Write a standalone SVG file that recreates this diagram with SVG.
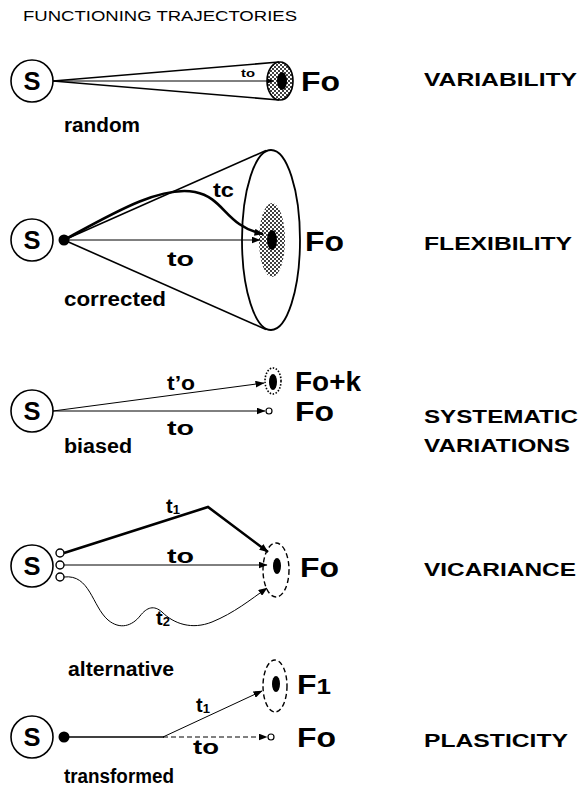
<svg xmlns="http://www.w3.org/2000/svg" width="581" height="786" viewBox="0 0 581 786">
<style>
.t{font-family:"Liberation Sans",Arial,sans-serif;fill:#000}
.b{font-weight:bold}
.node{fill:#fff;stroke:#000;stroke-width:1.6}
.ln{fill:none;stroke:#000;stroke-width:1}
.cone{fill:none;stroke:#000;stroke-width:1.6}
.thick{fill:none;stroke:#000;stroke-width:2.6}
.dash{fill:none;stroke:#000;stroke-width:1.4;stroke-dasharray:5 3}
.blk{fill:#000}
</style>
<defs>
<marker id="ah" markerWidth="9" markerHeight="7" refX="8.5" refY="3.5" orient="auto" markerUnits="userSpaceOnUse">
<path d="M0,0 L9,3.5 L0,7 z" fill="#000"/>
</marker>
<marker id="ahs" markerWidth="7" markerHeight="6" refX="6.5" refY="3" orient="auto" markerUnits="userSpaceOnUse">
<path d="M0,0 L7,3 L0,6 z" fill="#000"/>
</marker>
<pattern id="dots" width="4" height="4" patternUnits="userSpaceOnUse">
<rect width="4" height="4" fill="#fff"/>
<circle cx="1" cy="1" r="1" fill="#000"/>
<circle cx="3" cy="3" r="1" fill="#000"/>
</pattern>
</defs>

<text class="t" x="23" y="21" font-size="14" textLength="274" lengthAdjust="spacingAndGlyphs">FUNCTIONING TRAJECTORIES</text>

<g id="labels-right" class="t b" font-size="18">
<text x="424" y="86" textLength="153" lengthAdjust="spacingAndGlyphs">VARIABILITY</text>
<text x="424" y="250" textLength="148" lengthAdjust="spacingAndGlyphs">FLEXIBILITY</text>
<text x="424" y="423" textLength="154" lengthAdjust="spacingAndGlyphs">SYSTEMATIC</text>
<text x="424" y="452" textLength="146" lengthAdjust="spacingAndGlyphs">VARIATIONS</text>
<text x="424" y="576" textLength="152" lengthAdjust="spacingAndGlyphs">VICARIANCE</text>
<text x="424" y="747" textLength="144" lengthAdjust="spacingAndGlyphs">PLASTICITY</text>
</g>

<!-- Row 1: variability -->
<g id="row1">
<g id="s1"><circle class="node" cx="32" cy="81" r="21"/><text class="t b" x="23.5" y="90" font-size="26" textLength="17" lengthAdjust="spacingAndGlyphs">S</text></g>
<g id="fo1">
<ellipse cx="280" cy="81" rx="13" ry="19" fill="url(#dots)" stroke="#000" stroke-width="1.6"/>
<ellipse cx="282" cy="81" rx="5" ry="9" class="blk"/>
<text class="t b" x="301" y="91" font-size="27" textLength="39" lengthAdjust="spacingAndGlyphs">Fo</text>
</g>
<text class="t b" x="241" y="77" font-size="11" textLength="14" lengthAdjust="spacingAndGlyphs">to</text>
<text class="t b" x="64" y="132" font-size="20" textLength="76" lengthAdjust="spacingAndGlyphs">random</text>
</g>

<!-- Row 2: flexibility -->
<g id="row2">
<g id="s2"><circle class="node" cx="32" cy="240" r="21"/><text class="t b" x="23.5" y="249" font-size="26" textLength="17" lengthAdjust="spacingAndGlyphs">S</text></g>
<circle cx="64" cy="240" r="5.5" class="blk"/>
<g id="fo2">
<ellipse cx="271" cy="240" rx="29" ry="90" fill="none" stroke="#000" stroke-width="1.8"/>
<ellipse cx="272" cy="240" rx="13" ry="37" fill="url(#dots)"/>
<ellipse cx="272" cy="240" rx="5" ry="10" class="blk"/>
<text class="t b" x="305" y="251" font-size="27" textLength="39" lengthAdjust="spacingAndGlyphs">Fo</text>
</g>
<text class="t b" x="213" y="197" font-size="20" textLength="21" lengthAdjust="spacingAndGlyphs">tc</text>
<text class="t b" x="167" y="266" font-size="20" textLength="27" lengthAdjust="spacingAndGlyphs">to</text>
<text class="t b" x="64" y="306" font-size="20" textLength="102" lengthAdjust="spacingAndGlyphs">corrected</text>
</g>

<!-- Row 3: systematic variations -->
<g id="row3">
<g id="s3"><circle class="node" cx="32" cy="411" r="21"/><text class="t b" x="23.5" y="420" font-size="26" textLength="17" lengthAdjust="spacingAndGlyphs">S</text></g>
<g id="fok3">
<ellipse cx="273" cy="381" rx="8" ry="13" fill="none" stroke="#000" stroke-width="1.6" stroke-dasharray="1.5 1.6"/>
<ellipse cx="273" cy="382" rx="4" ry="8" class="blk"/>
<text class="t b" x="295" y="391" font-size="27" textLength="66" lengthAdjust="spacingAndGlyphs">Fo+k</text>
</g>
<g id="fo3">
<circle cx="269" cy="411" r="3" fill="#fff" stroke="#000" stroke-width="1.2"/>
<text class="t b" x="295" y="421" font-size="27" textLength="39" lengthAdjust="spacingAndGlyphs">Fo</text>
</g>
<text class="t b" x="167" y="390" font-size="20" textLength="28" lengthAdjust="spacingAndGlyphs">t’o</text>
<text class="t b" x="167" y="435" font-size="20" textLength="27" lengthAdjust="spacingAndGlyphs">to</text>
<text class="t b" x="64" y="453" font-size="20" textLength="68" lengthAdjust="spacingAndGlyphs">biased</text>
</g>

<!-- Row 4: vicariance -->
<g id="row4">
<g id="s4"><circle class="node" cx="32" cy="566" r="21"/><text class="t b" x="23.5" y="575" font-size="26" textLength="17" lengthAdjust="spacingAndGlyphs">S</text></g>
<circle cx="60" cy="553" r="4" fill="#fff" stroke="#000" stroke-width="1.4"/>
<circle cx="60" cy="565" r="4" fill="#fff" stroke="#000" stroke-width="1.4"/>
<circle cx="60" cy="577" r="4" fill="#fff" stroke="#000" stroke-width="1.4"/>
<g id="fo4">
<ellipse cx="276" cy="570" rx="13" ry="27" class="dash"/>
<ellipse cx="277" cy="566" rx="4" ry="8" class="blk"/>
<text class="t b" x="300" y="577" font-size="27" textLength="39" lengthAdjust="spacingAndGlyphs">Fo</text>
</g>
<text class="t b" x="166" y="513" font-size="20">t<tspan font-size="13" dy="1">1</tspan></text>
<text class="t b" x="167" y="563" font-size="20" textLength="27" lengthAdjust="spacingAndGlyphs">to</text>
<text class="t b" x="156" y="625" font-size="20">t<tspan font-size="13" dy="1">2</tspan></text>
</g>

<!-- Row 5: plasticity -->
<g id="row5">
<text class="t b" x="68" y="676" font-size="20" textLength="106" lengthAdjust="spacingAndGlyphs">alternative</text>
<g id="s5"><circle class="node" cx="32" cy="737" r="21"/><text class="t b" x="23.5" y="746" font-size="26" textLength="17" lengthAdjust="spacingAndGlyphs">S</text></g>
<circle cx="64" cy="737" r="5.5" class="blk"/>
<g id="f1">
<ellipse cx="275" cy="686" rx="12" ry="26" class="dash"/>
<ellipse cx="276" cy="684" rx="4" ry="8" class="blk"/>
<text class="t b" x="297" y="694" font-size="27" textLength="34" lengthAdjust="spacingAndGlyphs">F<tspan font-size="22">1</tspan></text>
</g>
<g id="fo5">
<circle cx="271" cy="737" r="3" fill="#fff" stroke="#000" stroke-width="1.2"/>
<text class="t b" x="297" y="747" font-size="27" textLength="39" lengthAdjust="spacingAndGlyphs">Fo</text>
</g>
<text class="t b" x="196" y="712" font-size="20">t<tspan font-size="13" dy="1">1</tspan></text>
<text class="t b" x="193" y="754" font-size="20" textLength="26" lengthAdjust="spacingAndGlyphs">to</text>
<text class="t b" x="64" y="783" font-size="20" textLength="110" lengthAdjust="spacingAndGlyphs">transformed</text>
</g>

<g id="connectors">
<!-- row1 -->
<line class="cone" x1="53" y1="81" x2="279" y2="62"/>
<line class="cone" x1="53" y1="81" x2="279" y2="100"/>
<line class="ln" x1="53" y1="81" x2="273" y2="81" marker-end="url(#ahs)"/>
<!-- row2 -->
<line class="cone" x1="64" y1="240" x2="266" y2="150.5"/>
<line class="cone" x1="64" y1="240" x2="266" y2="329.5"/>
<line class="ln" x1="68" y1="240" x2="260" y2="240" marker-end="url(#ah)"/>
<path class="thick" d="M64,240 C110,215 160,185 195,192 C225,198 225,226 263,234" marker-end="url(#ah)"/>
<!-- row3 -->
<line class="ln" x1="53" y1="411" x2="264" y2="383" stroke-width="1.8" marker-end="url(#ah)"/>
<line class="ln" x1="53" y1="411" x2="265" y2="411" marker-end="url(#ah)"/>
<!-- row4 -->
<polyline class="thick" points="64,553 208,507 268,552" marker-end="url(#ah)"/>
<line class="ln" x1="64" y1="565" x2="267" y2="565" marker-end="url(#ah)"/>
<path class="ln" d="M64,577 C90,574 92,606 108,620 C120,630 132,626 140,616 C147,607 154,605 162,612 C174,624 192,630 212,622 C234,613 250,600 267,588" marker-end="url(#ah)"/>
<!-- row5 -->
<line class="cone" x1="64" y1="737" x2="164" y2="737" stroke-width="1.8"/>
<line class="ln" x1="163" y1="737" x2="262" y2="691" stroke-width="1.8" marker-end="url(#ah)"/>
<line class="ln" x1="163" y1="737" x2="267" y2="737" stroke-dasharray="5 3" marker-end="url(#ah)"/>
</g>
</svg>
